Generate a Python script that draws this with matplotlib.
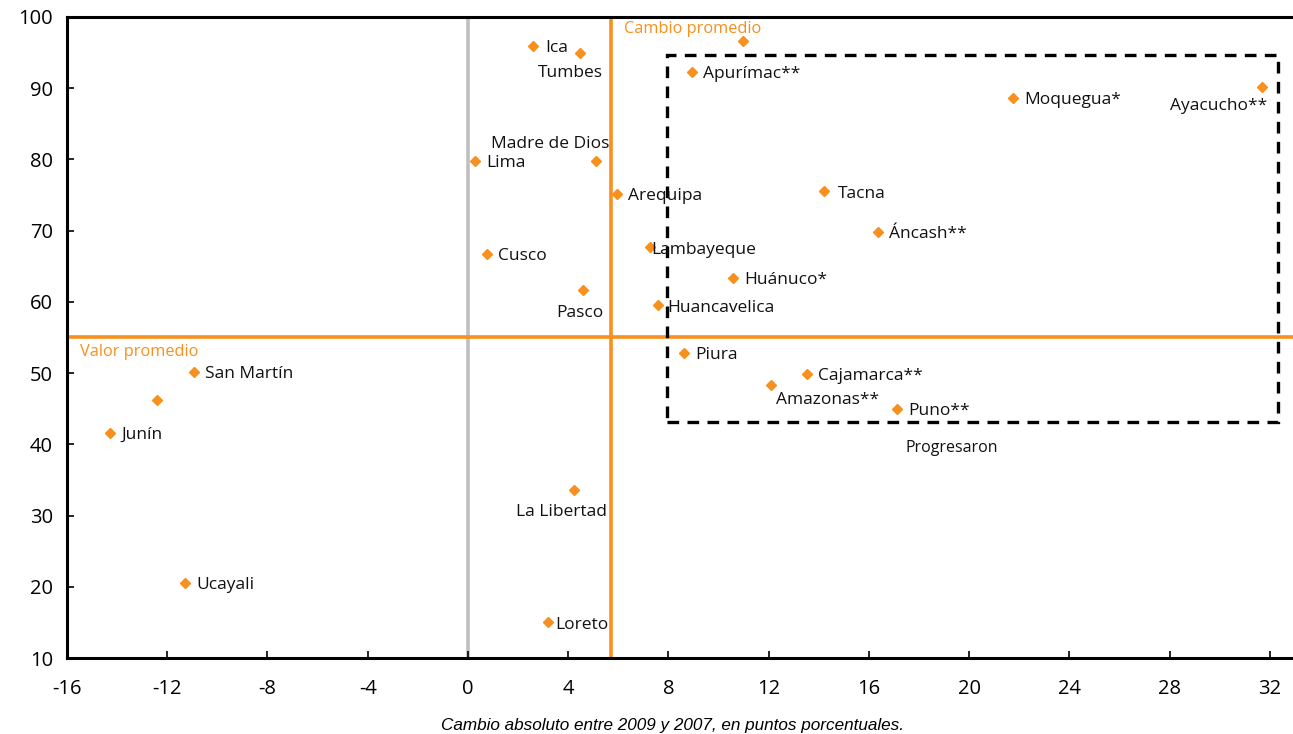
import matplotlib
matplotlib.use("Agg")
import matplotlib.pyplot as plt
from matplotlib.patches import Rectangle

# --- data ---
regions = ["Ica", "Tumbes", "", "Apurímac**", "Moquegua*", "Ayacucho**",
           "Madre de Dios", "Lima", "Arequipa", "Tacna", "Áncash**", "Cusco",
           "Lambayeque", "Huánuco*", "Pasco", "Huancavelica", "Piura",
           "Cajamarca**", "Amazonas**", "Puno**", "San Martín", "", "Junín",
           "La Libertad", "Ucayali", "Loreto"]
cambio = [2.6, 4.47, 10.98, 8.94, 21.75, 31.69,
          5.11, 0.28, 5.95, 14.21, 16.36, 0.76,
          7.26, 10.58, 4.59, 7.58, 8.62,
          13.53, 12.09, 17.12, -10.93, -12.41, -14.28,
          4.23, -11.29, 3.19]
valor = [95.9, 94.9, 96.6, 92.3, 88.6, 90.2,
         79.8, 79.8, 75.1, 75.6, 69.8, 66.7,
         67.7, 63.3, 61.7, 59.6, 52.8,
         49.9, 48.3, 44.9, 50.1, 46.2, 41.6,
         33.6, 20.5, 15.0]
cambio_promedio = 5.71
valor_promedio = 55.06
box_x = [7.94, 32.32]
box_y = [43.1, 94.66]

x_ticks = list(range(-16, 33, 4))
y_ticks = list(range(10, 101, 10))

ORANGE = "#F7901E"
FONT = "Open Sans"

# label placement (pixel offsets, alignment)
default_off = (11, -2, "left", "center")
offsets = {
    "Ica": (12, -2, "left", "center"),
    "Tumbes": (-10, -20, "center", "center"),
    "Ayacucho**": (5, -19, "right", "center"),
    "Madre de Dios": (-46, 17, "center", "center"),
    "Tacna": (14, -3, "left", "center"),
    "Lambayeque": (1, -3, "left", "center"),
    "Pasco": (-3, -23, "center", "center"),
    "Huancavelica": (9, -3, "left", "center"),
    "Amazonas**": (5, -15, "left", "center"),
    "La Libertad": (-12, -22, "center", "center"),
    "Loreto": (7, -3, "left", "center"),
}

fig = plt.figure(figsize=(12.93, 7.34), dpi=100)
ax = fig.add_axes([67 / 1293, 1 - 658 / 734, 1 - 67 / 1293, (658 - 17) / 734])

ax.set_xlim(-16, 32.92)
ax.set_ylim(10, 100)

# reference lines
ax.axvline(0, color="#BFBFBF", lw=2.6, zorder=1)
ax.axvline(cambio_promedio, color=ORANGE, lw=2.6, zorder=1)
ax.axhline(valor_promedio, color=ORANGE, lw=2.6, zorder=1)

# dashed box
ax.add_patch(Rectangle((box_x[0], box_y[0]), box_x[1] - box_x[0], box_y[1] - box_y[0],
                       fill=False, ec="black", lw=2.4, ls=(0, (3.5, 2.5)), zorder=2))

ax.plot(cambio, valor, ls="none", marker="D", ms=5.2, color=ORANGE, mec=ORANGE, zorder=3)

for name, xv, yv in zip(regions, cambio, valor):
    if not name:
        continue
    dx, dy, ha, va = offsets.get(name, default_off)
    ax.annotate(name, (xv, yv), xytext=(dx, dy), textcoords="offset pixels",
                ha=ha, va=va, fontsize=12.5, family=FONT, color="#111111", zorder=4)

ax.text(6.23, 98.3, "Cambio promedio", color=ORANGE, fontsize=11.8, family=FONT,
        ha="left", va="center")
ax.text(-15.48, 52.95, "Valor promedio", color=ORANGE, fontsize=11.8, family=FONT,
        ha="left", va="center")
ax.text(19.3, 39.5, "Progresaron", color="#111111", fontsize=11.5, family=FONT,
        ha="center", va="center")

ax.set_xticks(x_ticks)
ax.set_yticks(y_ticks)
ax.set_xticklabels([str(v) for v in x_ticks], family=FONT, fontsize=14.5)
ax.set_yticklabels([str(v) for v in y_ticks], family=FONT, fontsize=14.5)
ax.tick_params(direction="in", length=5, width=1.2, pad=10)
ax.tick_params(axis="x", pad=15)

for s in ["left", "bottom", "top"]:
    ax.spines[s].set_linewidth(2.2)
ax.spines["right"].set_visible(False)

ax.set_xlabel("Cambio absoluto entre 2009 y 2007, en puntos porcentuales.",
              family="Liberation Sans", style="italic", fontsize=12.3, labelpad=14)
ax.xaxis.label.set_x(0.494)

fig.savefig("out.png", dpi=100)
